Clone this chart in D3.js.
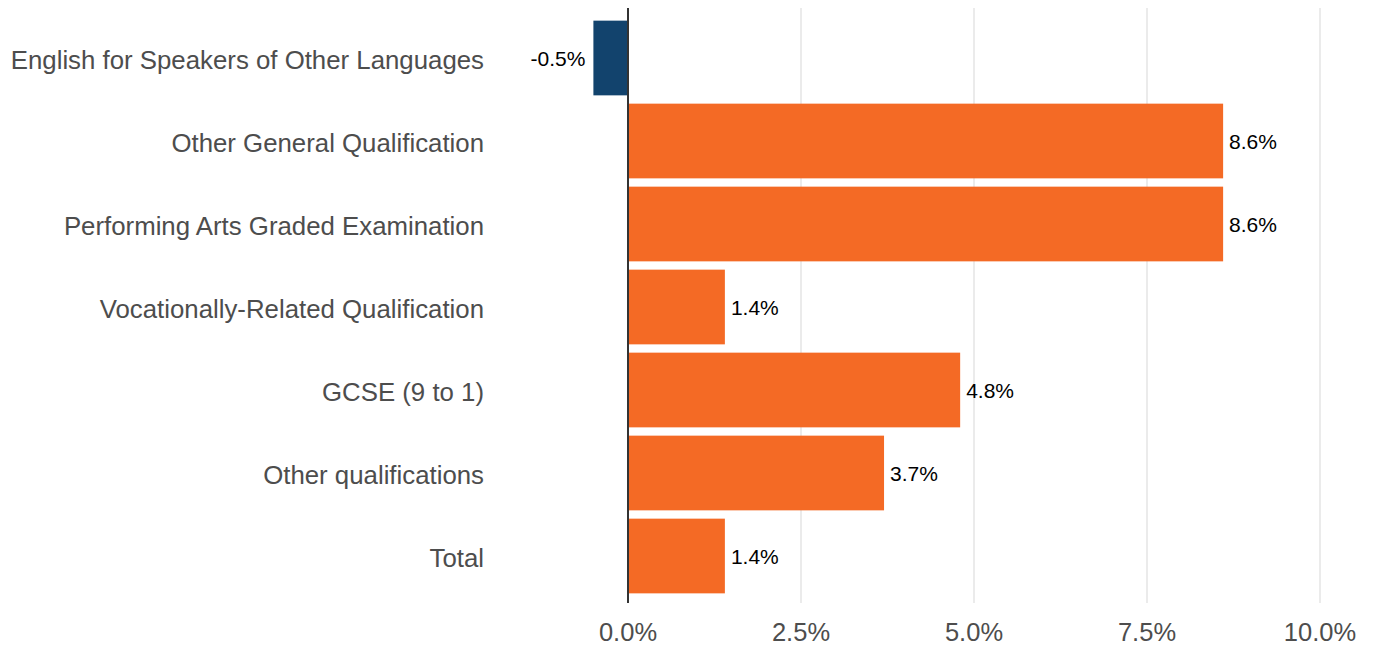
<!DOCTYPE html>
<html lang="en">
<head>
<meta charset="UTF-8">
<title>Change in certificates by qualification type</title>
<script src="https://d3js.org/d3.v7.min.js"></script>
<style>
  body { margin: 0; padding: 0; background: #fff; font-family: "Liberation Sans", Arial, sans-serif; }
</style>
</head>
<body>
<svg id="chart" width="1373" height="646"></svg>
<script>
const categories = [
  "English for Speakers of Other Languages",
  "Other General Qualification",
  "Performing Arts Graded Examination",
  "Vocationally-Related Qualification",
  "GCSE (9 to 1)",
  "Other qualifications",
  "Total"
];
const values = [-0.5, 8.6, 8.6, 1.4, 4.8, 3.7, 1.4];
const tickValues = [0, 2.5, 5, 7.5, 10];

const data = categories.map((c, i) => ({ category: c, value: values[i] }));

const svg = d3.select("#chart");
const panelTop = 8, panelBottom = 603;

const x = d3.scaleLinear().domain([0, 10]).range([628, 1320]);
const y = d3.scaleBand()
  .domain(categories)
  .range([16.5, 597.5])
  .paddingInner(0.1)
  .paddingOuter(0.05);

// gridlines
svg.append("g").selectAll("line")
  .data(tickValues)
  .join("line")
  .attr("x1", d => x(d)).attr("x2", d => x(d))
  .attr("y1", panelTop).attr("y2", panelBottom)
  .attr("stroke", "#ebebeb")
  .attr("stroke-width", 2);

// bars
svg.append("g").selectAll("rect")
  .data(data)
  .join("rect")
  .attr("x", d => x(Math.min(0, d.value)))
  .attr("width", d => Math.abs(x(d.value) - x(0)))
  .attr("y", d => y(d.category))
  .attr("height", y.bandwidth())
  .attr("fill", d => d.value < 0 ? "#12436D" : "#F46A25");

// zero line
svg.append("line")
  .attr("x1", x(0)).attr("x2", x(0))
  .attr("y1", panelTop).attr("y2", panelBottom)
  .attr("stroke", "#333333")
  .attr("stroke-width", 2);

// value labels
svg.append("g").selectAll("text")
  .data(data)
  .join("text")
  .attr("x", d => d.value < 0 ? x(d.value) - 8 : x(d.value) + 6)
  .attr("y", d => y(d.category) + y.bandwidth() / 2)
  .attr("dy", "0.4em")
  .attr("text-anchor", d => d.value < 0 ? "end" : "start")
  .attr("font-size", 21)
  .attr("fill", "#000")
  .text(d => d.value.toFixed(1) + "%");

// category labels
svg.append("g").selectAll("text")
  .data(categories)
  .join("text")
  .attr("x", 484)
  .attr("y", d => y(d) + y.bandwidth() / 2 + 1.5)
  .attr("dy", "0.35em")
  .attr("text-anchor", "end")
  .attr("font-size", 25.8)
  .attr("fill", "#4d4d4d")
  .text(d => d);

// x tick labels
svg.append("g").selectAll("text")
  .data(tickValues)
  .join("text")
  .attr("x", d => x(d))
  .attr("y", 632)
  .attr("dy", "0.35em")
  .attr("text-anchor", "middle")
  .attr("font-size", 25.5)
  .attr("fill", "#4d4d4d")
  .text(d => d.toFixed(1) + "%");
</script>
</body>
</html>
